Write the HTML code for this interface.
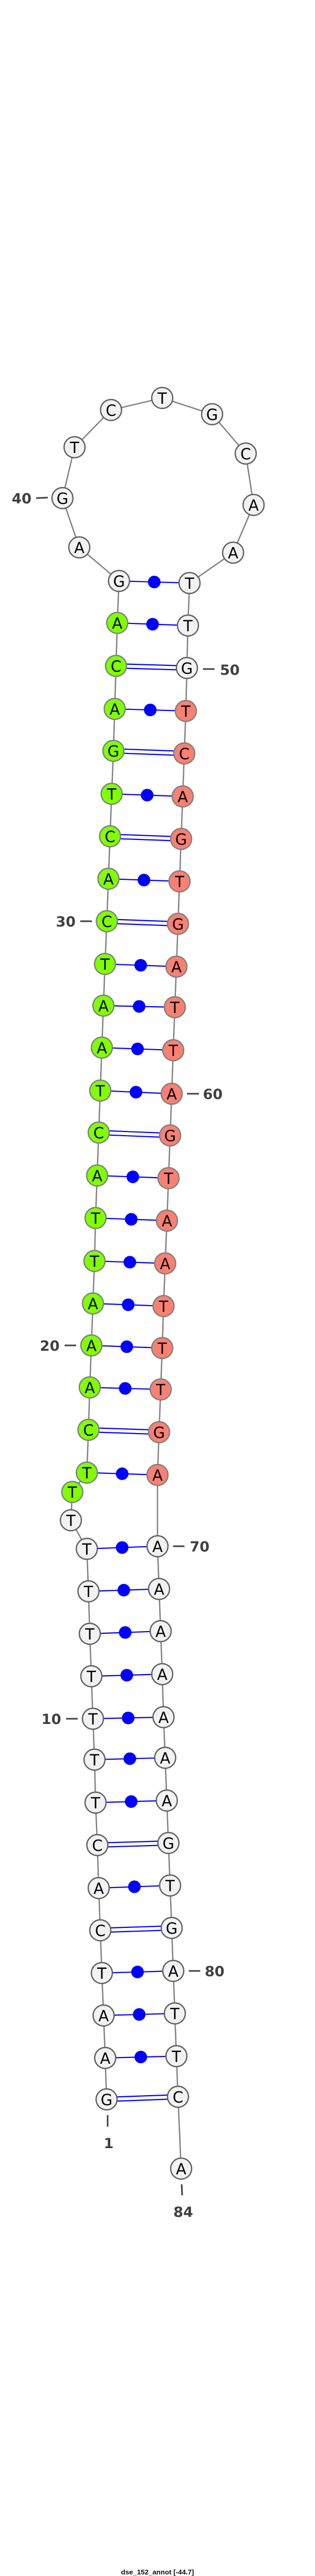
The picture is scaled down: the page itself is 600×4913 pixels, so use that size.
<!DOCTYPE html>
<html><head><meta charset="utf-8"><style>
html,body{margin:0;padding:0;background:#fff;}
svg{display:block;}
.b{stroke:#808080;stroke-width:2.5;fill:none;}
.p{stroke:#0000ff;stroke-width:2.2;}
.d{fill:#0000ff;}
.w{fill:#f2f2f2;stroke:#606060;stroke-width:2.5;}
.g{fill:#80ff00;stroke:#808080;stroke-width:2.5;}
.s{fill:#fa8072;stroke:#808080;stroke-width:2.5;}
.n text,text.l{font-family:"DejaVu Sans","Liberation Sans",sans-serif;}
.n text{font-size:29px;fill:#000;text-anchor:middle;}
text.l{font-size:27px;font-weight:bold;fill:#404040;}
.t{stroke:#404040;stroke-width:3;}
</style></head><body>
<svg width="600" height="4913" viewBox="0 0 600 4913" xmlns="http://www.w3.org/2000/svg">
<polyline class="b" points="203,4004 200.4,3925 197.3,3844 194,3763 191,3681.5 188,3601 185.4,3519 182,3438 180,3356 177,3278 174,3197 171,3116 168.5,3035 165.4,2954 135,2899.5 137.7,2845.5 165.4,2808.6 168.5,2727 171,2646 174,2566 177,2486 180,2405 182,2323 185,2242 188,2160 191,2080 194,1998 197,1918 200,1838.5 203.5,1757 206.5,1676 209.6,1595 212.7,1514 216,1432 218.5,1352 221,1270 223.3,1188 226.7,1108 151,1044 119,950 142,853 211.5,782 309,759 404,790 468,865 483,963 444,1054 361,1112 358,1193 356,1274 354,1356 351,1437 348,1519 345,1600 342,1681 339,1762 336,1843.6 333,1921 330,2003 327,2086 324,2165.5 321,2247 318,2328 314.6,2409.6 311.5,2491 309,2571 306,2650 303,2731.5 300,2813 300,2949 303,3030.5 306,3111 309,3193 311.5,3275 314.6,3352.5 317.7,3434 320.8,3515 324,3596 327,3677 330,3759 333,3840 336,3921.5 339,3999 345,4136"/>
<g>
<!-- double pairs -->
<line class="p" x1="203" y1="4000" x2="339" y2="3995"/><line class="p" x1="203" y1="4008" x2="339" y2="4003"/>
<line class="p" x1="191" y1="3677.5" x2="327" y2="3673"/><line class="p" x1="191" y1="3685.5" x2="327" y2="3681"/>
<line class="p" x1="185.4" y1="3515" x2="320.8" y2="3511"/><line class="p" x1="185.4" y1="3523" x2="320.8" y2="3519"/>
<line class="p" x1="168.5" y1="2723" x2="303" y2="2727.5"/><line class="p" x1="168.5" y1="2731" x2="303" y2="2735.5"/>
<line class="p" x1="188" y1="2156" x2="324" y2="2161.5"/><line class="p" x1="188" y1="2164" x2="324" y2="2169.5"/>
<line class="p" x1="203.5" y1="1753" x2="339" y2="1758"/><line class="p" x1="203.5" y1="1761" x2="339" y2="1766"/>
<line class="p" x1="209.6" y1="1591" x2="345" y2="1596"/><line class="p" x1="209.6" y1="1599" x2="345" y2="1604"/>
<line class="p" x1="216" y1="1428" x2="351" y2="1433"/><line class="p" x1="216" y1="1436" x2="351" y2="1441"/>
<line class="p" x1="221" y1="1266" x2="356" y2="1270"/><line class="p" x1="221" y1="1274" x2="356" y2="1278"/>
<!-- single pairs -->
<line class="p" x1="200.4" y1="3925" x2="336" y2="3921.5"/><circle class="d" cx="268.2" cy="3923.2" r="12"/>
<line class="p" x1="197.3" y1="3844" x2="333" y2="3840"/><circle class="d" cx="265.2" cy="3842" r="12"/>
<line class="p" x1="194" y1="3763" x2="330" y2="3759"/><circle class="d" cx="262" cy="3761" r="12"/>
<line class="p" x1="188" y1="3601" x2="324" y2="3596"/><circle class="d" cx="256" cy="3598.5" r="12"/>
<line class="p" x1="182" y1="3438" x2="317.7" y2="3434"/><circle class="d" cx="249.9" cy="3436" r="12"/>
<line class="p" x1="180" y1="3356" x2="314.6" y2="3352.5"/><circle class="d" cx="247.3" cy="3354.2" r="12"/>
<line class="p" x1="177" y1="3278" x2="311.5" y2="3275"/><circle class="d" cx="244.2" cy="3276.5" r="12"/>
<line class="p" x1="174" y1="3197" x2="309" y2="3193"/><circle class="d" cx="241.5" cy="3195" r="12"/>
<line class="p" x1="171" y1="3116" x2="306" y2="3111"/><circle class="d" cx="238.5" cy="3113.5" r="12"/>
<line class="p" x1="168.5" y1="3035" x2="303" y2="3030.5"/><circle class="d" cx="235.8" cy="3032.8" r="12"/>
<line class="p" x1="165.4" y1="2954" x2="300" y2="2949"/><circle class="d" cx="232.7" cy="2951.5" r="12"/>
<line class="p" x1="165.4" y1="2808.6" x2="300" y2="2813"/><circle class="d" cx="232.7" cy="2810.8" r="12"/>
<line class="p" x1="171" y1="2646" x2="306" y2="2650"/><circle class="d" cx="238.5" cy="2648" r="12"/>
<line class="p" x1="174" y1="2566" x2="309" y2="2571"/><circle class="d" cx="241.5" cy="2568.5" r="12"/>
<line class="p" x1="177" y1="2486" x2="311.5" y2="2491"/><circle class="d" cx="244.2" cy="2488.5" r="12"/>
<line class="p" x1="180" y1="2405" x2="314.6" y2="2409.6"/><circle class="d" cx="247.3" cy="2407.3" r="12"/>
<line class="p" x1="182" y1="2323" x2="318" y2="2328"/><circle class="d" cx="250" cy="2325.5" r="12"/>
<line class="p" x1="185" y1="2242" x2="321" y2="2247"/><circle class="d" cx="253" cy="2244.5" r="12"/>
<line class="p" x1="191" y1="2080" x2="327" y2="2086"/><circle class="d" cx="259" cy="2083" r="12"/>
<line class="p" x1="194" y1="1998" x2="330" y2="2003"/><circle class="d" cx="262" cy="2000.5" r="12"/>
<line class="p" x1="197" y1="1918" x2="333" y2="1921"/><circle class="d" cx="265" cy="1919.5" r="12"/>
<line class="p" x1="200" y1="1838.5" x2="336" y2="1843.6"/><circle class="d" cx="268" cy="1841" r="12"/>
<line class="p" x1="206.5" y1="1676" x2="342" y2="1681"/><circle class="d" cx="274.2" cy="1678.5" r="12"/>
<line class="p" x1="212.7" y1="1514" x2="348" y2="1519"/><circle class="d" cx="280.3" cy="1516.5" r="12"/>
<line class="p" x1="218.5" y1="1352" x2="354" y2="1356"/><circle class="d" cx="286.2" cy="1354" r="12"/>
<line class="p" x1="223.3" y1="1188" x2="358" y2="1193"/><circle class="d" cx="290.6" cy="1190.5" r="12"/>
<line class="p" x1="226.7" y1="1108" x2="361" y2="1112"/><circle class="d" cx="293.8" cy="1110" r="12"/>
</g>
<g class="n">
<circle class="w" cx="203" cy="4004" r="20"/><text x="203" y="4015">G</text>
<circle class="w" cx="200.4" cy="3925" r="20"/><text x="200.4" y="3936">A</text>
<circle class="w" cx="197.3" cy="3844" r="20"/><text x="197.3" y="3855">A</text>
<circle class="w" cx="194" cy="3763" r="20"/><text x="194" y="3774">T</text>
<circle class="w" cx="191" cy="3681.5" r="20"/><text x="191" y="3692.5">C</text>
<circle class="w" cx="188" cy="3601" r="20"/><text x="188" y="3612">A</text>
<circle class="w" cx="185.4" cy="3519" r="20"/><text x="185.4" y="3530">C</text>
<circle class="w" cx="182" cy="3438" r="20"/><text x="182" y="3449">T</text>
<circle class="w" cx="180" cy="3356" r="20"/><text x="180" y="3367">T</text>
<circle class="w" cx="177" cy="3278" r="20"/><text x="177" y="3289">T</text>
<circle class="w" cx="174" cy="3197" r="20"/><text x="174" y="3208">T</text>
<circle class="w" cx="171" cy="3116" r="20"/><text x="171" y="3127">T</text>
<circle class="w" cx="168.5" cy="3035" r="20"/><text x="168.5" y="3046">T</text>
<circle class="w" cx="165.4" cy="2954" r="20"/><text x="165.4" y="2965">T</text>
<circle class="w" cx="135" cy="2899.5" r="20"/><text x="135" y="2910.5">T</text>
<circle class="g" cx="137.7" cy="2845.5" r="20"/><text x="137.7" y="2856.5">T</text>
<circle class="g" cx="165.4" cy="2808.6" r="20"/><text x="165.4" y="2819.6">T</text>
<circle class="g" cx="168.5" cy="2727" r="20"/><text x="168.5" y="2738">C</text>
<circle class="g" cx="171" cy="2646" r="20"/><text x="171" y="2657">A</text>
<circle class="g" cx="174" cy="2566" r="20"/><text x="174" y="2577">A</text>
<circle class="g" cx="177" cy="2486" r="20"/><text x="177" y="2497">A</text>
<circle class="g" cx="180" cy="2405" r="20"/><text x="180" y="2416">T</text>
<circle class="g" cx="182" cy="2323" r="20"/><text x="182" y="2334">T</text>
<circle class="g" cx="185" cy="2242" r="20"/><text x="185" y="2253">A</text>
<circle class="g" cx="188" cy="2160" r="20"/><text x="188" y="2171">C</text>
<circle class="g" cx="191" cy="2080" r="20"/><text x="191" y="2091">T</text>
<circle class="g" cx="194" cy="1998" r="20"/><text x="194" y="2009">A</text>
<circle class="g" cx="197" cy="1918" r="20"/><text x="197" y="1929">A</text>
<circle class="g" cx="200" cy="1838.5" r="20"/><text x="200" y="1849.5">T</text>
<circle class="g" cx="203.5" cy="1757" r="20"/><text x="203.5" y="1768">C</text>
<circle class="g" cx="206.5" cy="1676" r="20"/><text x="206.5" y="1687">A</text>
<circle class="g" cx="209.6" cy="1595" r="20"/><text x="209.6" y="1606">C</text>
<circle class="g" cx="212.7" cy="1514" r="20"/><text x="212.7" y="1525">T</text>
<circle class="g" cx="216" cy="1432" r="20"/><text x="216" y="1443">G</text>
<circle class="g" cx="218.5" cy="1352" r="20"/><text x="218.5" y="1363">A</text>
<circle class="g" cx="221" cy="1270" r="20"/><text x="221" y="1281">C</text>
<circle class="g" cx="223.3" cy="1188" r="20"/><text x="223.3" y="1199">A</text>
<circle class="w" cx="226.7" cy="1108" r="20"/><text x="226.7" y="1119">G</text>
<circle class="w" cx="151" cy="1044" r="20"/><text x="151" y="1055">A</text>
<circle class="w" cx="119" cy="950" r="20"/><text x="119" y="961">G</text>
<circle class="w" cx="142" cy="853" r="20"/><text x="142" y="864">T</text>
<circle class="w" cx="211.5" cy="782" r="20"/><text x="211.5" y="793">C</text>
<circle class="w" cx="309" cy="759" r="20"/><text x="309" y="770">T</text>
<circle class="w" cx="404" cy="790" r="20"/><text x="404" y="801">G</text>
<circle class="w" cx="468" cy="865" r="20"/><text x="468" y="876">C</text>
<circle class="w" cx="483" cy="963" r="20"/><text x="483" y="974">A</text>
<circle class="w" cx="444" cy="1054" r="20"/><text x="444" y="1065">A</text>
<circle class="w" cx="361" cy="1112" r="20"/><text x="361" y="1123">T</text>
<circle class="w" cx="358" cy="1193" r="20"/><text x="358" y="1204">T</text>
<circle class="w" cx="356" cy="1274" r="20"/><text x="356" y="1285">G</text>
<circle class="s" cx="354" cy="1356" r="20"/><text x="354" y="1367">T</text>
<circle class="s" cx="351" cy="1437" r="20"/><text x="351" y="1448">C</text>
<circle class="s" cx="348" cy="1519" r="20"/><text x="348" y="1530">A</text>
<circle class="s" cx="345" cy="1600" r="20"/><text x="345" y="1611">G</text>
<circle class="s" cx="342" cy="1681" r="20"/><text x="342" y="1692">T</text>
<circle class="s" cx="339" cy="1762" r="20"/><text x="339" y="1773">G</text>
<circle class="s" cx="336" cy="1843.6" r="20"/><text x="336" y="1854.6">A</text>
<circle class="s" cx="333" cy="1921" r="20"/><text x="333" y="1932">T</text>
<circle class="s" cx="330" cy="2003" r="20"/><text x="330" y="2014">T</text>
<circle class="s" cx="327" cy="2086" r="20"/><text x="327" y="2097">A</text>
<circle class="s" cx="324" cy="2165.5" r="20"/><text x="324" y="2176.5">G</text>
<circle class="s" cx="321" cy="2247" r="20"/><text x="321" y="2258">T</text>
<circle class="s" cx="318" cy="2328" r="20"/><text x="318" y="2339">A</text>
<circle class="s" cx="314.6" cy="2409.6" r="20"/><text x="314.6" y="2420.6">A</text>
<circle class="s" cx="311.5" cy="2491" r="20"/><text x="311.5" y="2502">T</text>
<circle class="s" cx="309" cy="2571" r="20"/><text x="309" y="2582">T</text>
<circle class="s" cx="306" cy="2650" r="20"/><text x="306" y="2661">T</text>
<circle class="s" cx="303" cy="2731.5" r="20"/><text x="303" y="2742.5">G</text>
<circle class="s" cx="300" cy="2813" r="20"/><text x="300" y="2824">A</text>
<circle class="w" cx="300" cy="2949" r="20"/><text x="300" y="2960">A</text>
<circle class="w" cx="303" cy="3030.5" r="20"/><text x="303" y="3041.5">A</text>
<circle class="w" cx="306" cy="3111" r="20"/><text x="306" y="3122">A</text>
<circle class="w" cx="309" cy="3193" r="20"/><text x="309" y="3204">A</text>
<circle class="w" cx="311.5" cy="3275" r="20"/><text x="311.5" y="3286">A</text>
<circle class="w" cx="314.6" cy="3352.5" r="20"/><text x="314.6" y="3363.5">A</text>
<circle class="w" cx="317.7" cy="3434" r="20"/><text x="317.7" y="3445">A</text>
<circle class="w" cx="320.8" cy="3515" r="20"/><text x="320.8" y="3526">G</text>
<circle class="w" cx="324" cy="3596" r="20"/><text x="324" y="3607">T</text>
<circle class="w" cx="327" cy="3677" r="20"/><text x="327" y="3688">G</text>
<circle class="w" cx="330" cy="3759" r="20"/><text x="330" y="3770">A</text>
<circle class="w" cx="333" cy="3840" r="20"/><text x="333" y="3851">T</text>
<circle class="w" cx="336" cy="3921.5" r="20"/><text x="336" y="3932.5">T</text>
<circle class="w" cx="339" cy="3999" r="20"/><text x="339" y="4010">C</text>
<circle class="w" cx="345" cy="4136" r="20"/><text x="345" y="4147">A</text>
</g>
<!-- labels -->
<line class="t" x1="69" y1="950" x2="91" y2="949"/><text class="l" x="60" y="960" text-anchor="end">40</text>
<line class="t" x1="386.5" y1="1276" x2="408.5" y2="1276"/><text class="l" x="419" y="1287">50</text>
<line class="t" x1="152.7" y1="1757" x2="175" y2="1757"/><text class="l" x="144" y="1767" text-anchor="end">30</text>
<line class="t" x1="356" y1="2086" x2="379" y2="2086"/><text class="l" x="386.5" y="2096">60</text>
<line class="t" x1="123" y1="2566" x2="145" y2="2566"/><text class="l" x="113.5" y="2576" text-anchor="end">20</text>
<line class="t" x1="329.6" y1="2949" x2="351.5" y2="2949"/><text class="l" x="361.5" y="2959">70</text>
<line class="t" x1="126" y1="3278" x2="148" y2="3278"/><text class="l" x="116.5" y="3288" text-anchor="end">10</text>
<line class="t" x1="359.6" y1="3759" x2="381.5" y2="3759"/><text class="l" x="390" y="3769">80</text>
<line class="t" x1="205" y1="4034" x2="205" y2="4056"/><text class="l" x="207" y="4097" text-anchor="middle">1</text>
<line class="t" x1="346" y1="4166" x2="347" y2="4187"/><text class="l" x="349" y="4228" text-anchor="middle">84</text>
<text x="300" y="4910" text-anchor="middle" font-family="Liberation Sans, DejaVu Sans, sans-serif" font-weight="bold" font-size="13" fill="#111" textLength="139" lengthAdjust="spacingAndGlyphs">dse_152_annot [-44.7]</text>
</svg>
</body></html>
